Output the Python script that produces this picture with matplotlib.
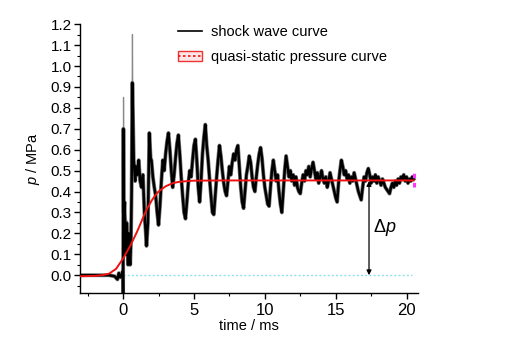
import numpy as np
import matplotlib
matplotlib.use("Agg")
import matplotlib.pyplot as plt
from matplotlib.lines import Line2D
from matplotlib.patches import Patch
from matplotlib.ticker import MultipleLocator

plt.rcParams['font.family'] = ['Liberation Sans', 'DejaVu Sans']
plt.rcParams['mathtext.fontset'] = 'custom'
plt.rcParams['mathtext.it'] = 'Liberation Sans:italic'
plt.rcParams['mathtext.rm'] = 'Liberation Sans'

# ---- data ----
early_t = [-3.0, -2.0, -1.0, -0.6, -0.4, -0.3, -0.2, -0.1, -0.02, 0.0, 0.02, 0.05, 0.1, 0.15,
           0.2, 0.25, 0.3, 0.35, 0.4, 0.45, 0.5, 0.55, 0.6, 0.65, 0.7, 0.75, 0.8, 0.85, 0.9,
           1.0, 1.1, 1.2, 1.3, 1.4, 1.5, 1.6, 1.65, 1.75, 1.85, 1.95]
early_p = [0.0, 0.0, 0.0, -0.005, -0.02, 0.01, -0.01, 0.0, 0.02, -0.09, 0.70, 0.30, 0.35, 0.2,
           0.1, 0.25, 0.15, 0.05, 0.2, 0.1, 0.05, 0.15, 0.4, 0.92, 0.75, 0.55, 0.5, 0.45, 0.52,
           0.48, 0.55, 0.45, 0.42, 0.48, 0.3, 0.2, 0.14, 0.25, 0.68, 0.55]

late_t0, late_dt = 2.0, 0.1
late_p = [0.55, 0.47, 0.42, 0.38, 0.30, 0.24, 0.33, 0.45, 0.55, 0.50,
          0.58, 0.64, 0.68, 0.60, 0.50, 0.42, 0.48, 0.56, 0.63, 0.67,
          0.58, 0.47, 0.38, 0.30, 0.27, 0.35, 0.44, 0.50, 0.47, 0.55,
          0.62, 0.65, 0.55, 0.42, 0.35, 0.45, 0.58, 0.66, 0.72, 0.62,
          0.55, 0.46, 0.38, 0.30, 0.29, 0.38, 0.47, 0.55, 0.62, 0.57,
          0.50, 0.44, 0.40, 0.38, 0.45, 0.52, 0.48, 0.54, 0.58, 0.55,
          0.60, 0.62, 0.52, 0.42, 0.35, 0.32, 0.40, 0.48, 0.52, 0.57,
          0.54, 0.47, 0.42, 0.40, 0.47, 0.53, 0.58, 0.61, 0.56, 0.48,
          0.42, 0.38, 0.34, 0.33, 0.42, 0.50, 0.55, 0.50, 0.45, 0.48,
          0.40, 0.34, 0.30, 0.40, 0.50, 0.57, 0.52, 0.47, 0.50, 0.45,
          0.48, 0.43, 0.47, 0.42, 0.40, 0.39, 0.44, 0.48, 0.45, 0.50,
          0.48, 0.52, 0.47, 0.51, 0.54, 0.50, 0.46, 0.49, 0.44, 0.47,
          0.50, 0.46, 0.44, 0.47, 0.42, 0.45, 0.49, 0.46, 0.43, 0.40,
          0.37, 0.35, 0.44, 0.50, 0.55, 0.52, 0.48, 0.50, 0.46, 0.48,
          0.44, 0.47, 0.45, 0.49, 0.46, 0.43, 0.40, 0.38, 0.36, 0.42,
          0.47, 0.45, 0.49, 0.51, 0.48, 0.44, 0.47, 0.45, 0.48, 0.44,
          0.47, 0.45, 0.43, 0.46, 0.44, 0.42, 0.41, 0.40, 0.39, 0.42,
          0.44, 0.42, 0.45, 0.43, 0.46, 0.44, 0.47, 0.46, 0.48, 0.45,
          0.47, 0.44, 0.46, 0.45, 0.47, 0.46]

spike_t = [-0.04, -0.02, 0.0, 0.03, 0.06, 0.58, 0.62, 0.66, 0.70]
spike_p = [0.0, 0.08, -0.08, 0.85, 0.3, 0.2, 0.6, 1.15, 0.6]

qs_t = [-3, -2, -1.5, -1, -0.5, 0, 0.5, 1.0, 1.25, 1.5, 1.75, 2.0, 2.25, 2.5, 3.0, 3.5, 4.0, 5, 7, 20.5]
qs_p = [-0.005, -0.003, 0.0, 0.007, 0.03, 0.08, 0.14, 0.21, 0.25, 0.29, 0.325, 0.355, 0.38,
        0.40, 0.425, 0.44, 0.447, 0.452, 0.453, 0.453]

dp_top, dp_bottom, dp_x = 0.45, 0.0, 17.35

late_t = late_t0 + late_dt * np.arange(len(late_p))
shock_t = np.concatenate([early_t, late_t])
shock_p = np.concatenate([early_p, late_p])

fig = plt.figure(figsize=(5.29, 3.39), dpi=100)
ax = fig.add_axes([0.151, 0.1357, 0.639, 0.793])

ax.plot([0, 20.4], [0, 0], color='#8fe3ea', lw=1.0, ls=(0, (1.5, 1.5)), zorder=1)
ax.plot(spike_t, spike_p, color='#888888', lw=0.9, zorder=2)
ax.plot(shock_t, shock_p, color='#777777', lw=2.8, zorder=2.5)
ax.plot(shock_t, shock_p, color='black', lw=1.8, zorder=3)
ax.plot(qs_t, qs_p, color='#ee1111', lw=1.4, zorder=4)
ax.plot([20.55, 20.55], [0.42, 0.49], color='#ff33ff', lw=2.2, ls=(0, (1.5, 1.5)), zorder=5)

ax.annotate('', xy=(dp_x, dp_bottom), xytext=(dp_x, dp_top),
            arrowprops=dict(arrowstyle='<|-|>', color='black', lw=0.9,
                            mutation_scale=7, shrinkA=0, shrinkB=0))
ax.text(17.6, 0.23, r'$\Delta p$', fontsize=13, ha='left', va='center')

ax.set_xlim(-3.05, 20.8)
ax.set_ylim(-0.085, 1.2)
ax.xaxis.set_major_locator(MultipleLocator(5))
ax.xaxis.set_minor_locator(MultipleLocator(2.5))
ax.yaxis.set_major_locator(MultipleLocator(0.1))
ax.yaxis.set_minor_locator(MultipleLocator(0.05))
ax.yaxis.set_major_formatter(matplotlib.ticker.FormatStrFormatter('%.1f'))
for s in ['top', 'right']:
    ax.spines[s].set_visible(False)
for s in ['left', 'bottom']:
    ax.spines[s].set_linewidth(1.0)
ax.tick_params(axis='both', which='major', direction='out', length=4, width=1.0)
ax.tick_params(axis='both', which='minor', direction='out', length=2, width=0.8)
ax.tick_params(axis='y', labelsize=11, pad=2)
ax.tick_params(axis='x', labelsize=12, pad=3)

ax.set_xlabel('time / ms', fontsize=10.5, labelpad=1)
ax.set_ylabel(r'$p$ / MPa', fontsize=10.5, labelpad=6)

h1 = Line2D([], [], color='black', lw=1.2)
h2 = (Patch(facecolor='#ffe5e5', edgecolor='#ee3333', lw=1.0),
      Line2D([], [], color='#ee1111', lw=1.2, ls=(0, (1.5, 1.5))))
ax.legend([h1, h2], ['shock wave curve', 'quasi-static pressure curve'],
          loc='upper left', bbox_to_anchor=(0.25, 1.045), frameon=False,
          fontsize=10.5, handlelength=1.7, handletextpad=0.6, labelspacing=0.75)

fig.savefig('out.png', dpi=100)
